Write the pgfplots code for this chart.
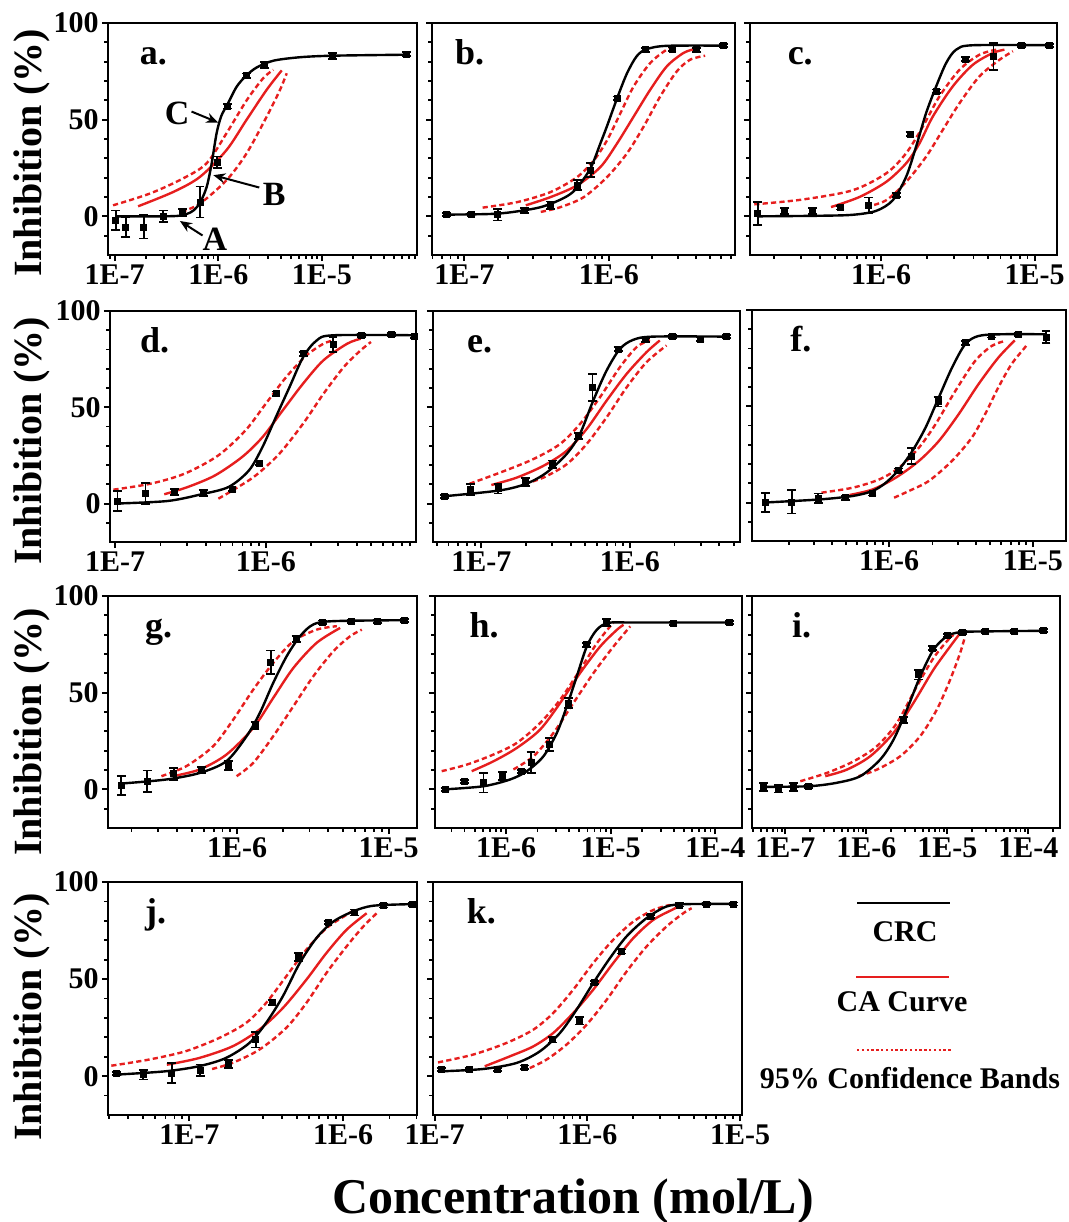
\documentclass[border=0pt]{standalone}
\usepackage{fontspec}
\setmainfont{Liberation Serif}
\usepackage{pgfplots}
\pgfplotsset{compat=1.18}
\usetikzlibrary{arrows.meta}
\definecolor{cared}{RGB}{230,30,30}

\pgfplotsset{
  every axis/.append style={
    scale only axis, anchor=north west, xmode=log,
    ymin=-20, ymax=100,
    ytick={0,50,100}, yticklabels={0,50,100},
    minor ytick={-10,10,20,30,40,60,70,80,90},
    xtick={1e-8,1e-7,1e-6,1e-5,1e-4,1e-3},
    minor xtick={2e-8,3e-8,4e-8,5e-8,6e-8,7e-8,8e-8,9e-8,2e-7,3e-7,4e-7,5e-7,6e-7,7e-7,8e-7,9e-7,
      2e-6,3e-6,4e-6,5e-6,6e-6,7e-6,8e-6,9e-6,2e-5,3e-5,4e-5,5e-5,6e-5,7e-5,8e-5,9e-5,
      2e-4,3e-4,4e-4,5e-4,6e-4,7e-4,8e-4,9e-4},
    xticklabel={\pgfmathparse{int(round(\tick/2.302585))}1E\pgfmathresult},
    tick align=outside, tick pos=left,
    axis line style={line width=1.3pt},
    major tick style={line width=1pt, black},
    minor tick style={line width=0.9pt, black},
    major tick length=3pt, minor tick length=1.8pt,
    tick label style={font=\fontsize{15}{15}\selectfont\bfseries, inner sep=1.5pt},
  },
  crc/.style={black, line width=1.2pt, smooth},
  ca/.style={cared, line width=1.2pt, smooth},
  cb/.style={cared, line width=1.2pt, smooth, dash pattern=on 2.6pt off 1.6pt},
  dat/.style={only marks, mark=square*, mark size=1.5pt, black,
    error bars/y dir=both, error bars/y explicit,
    error bars/error bar style={line width=0.9pt, black},
    error bars/error mark options={rotate=90, black, line width=0.9pt, mark size=2.2pt}},
}
\tikzset{
  lab/.style={anchor=base west, font=\fontsize{18}{18}\selectfont\bfseries},
  ann/.style={font=\fontsize{17}{17}\selectfont\bfseries},
  arr/.style={-{Stealth[length=6pt,width=5pt]}, line width=1pt, black},
}

\begin{document}
\begin{tikzpicture}
\useasboundingbox (0,0) rectangle (534.5pt,-611pt);

% ---------- a ----------
\begin{axis}[at={(54pt,-11.5pt)}, width=154.5pt, height=116pt, xmin=8.61e-8, xmax=8.30e-5]
\addplot[cb] table[x expr={10^(\thisrowno{0})}] {
-7.016 5.7
-6.66 11.8
-6.34 19.6
-6.113 27.4
-5.92 43
-5.726 60
-5.565 71.5
-5.468 75.8
};
\addplot[cb] table[x expr={10^(\thisrowno{0})}] {
-6.355 2.3
-6.177 6.6
-5.92 18.7
-5.726 32.6
-5.532 51.6
-5.403 65.5
-5.339 74
};
\addplot[ca] table[x expr={10^(\thisrowno{0})}] {
-6.774 5.2
-6.435 12.6
-6.177 20.4
-5.92 34.3
-5.726 50
-5.532 65.5
-5.387 75.5
};
\addplot[crc] table[x expr={10^(\thisrowno{0})}] {
-6.99 0
-6.6 0
-6.40 0.2
-6.306 1.2
-6.24 3
-6.177 7
-6.113 15
-6.065 27
-6.016 43
-5.97 52
-5.91 58
-5.823 67
-5.732 72.7
-5.629 77
-5.468 80.5
-5.21 82.3
-4.887 83.1
-4.184 83.6
};
\addplot[dat] table[x expr={10^(\thisrowno{0})}, y error index=2] {
-6.99 -2 5
-6.894 -5.5 5
-6.72 -5.5 6
-6.53 0 3
-6.345 2 2
-6.177 7.4 8
-6.01 28 3
-5.91 57 1.2
-5.73 72.7 1.2
-5.55 78.4 1.5
-4.90 82.8 1.5
-4.18 84 1
};
\node[lab] at (rel axis cs:0.08,0.82) {a.};
\node[ann] at (axis cs:4.0e-7,53.3) {C};
\draw[arr] (axis cs:5.52e-7,54.2) -- (axis cs:1e-6,48.5);
\node[ann] at (axis cs:3.46e-6,11.3) {B};
\draw[arr] (axis cs:2.49e-6,14.9) -- (axis cs:8.95e-7,21.3);
\node[ann] at (axis cs:9.29e-7,-12.1) {A};
\draw[arr] (axis cs:7.05e-7,-9.9) -- (axis cs:4.26e-7,-2.4);
\end{axis}

% ---------- b ----------
\begin{axis}[yticklabels={}, at={(216pt,-11.5pt)}, width=151.5pt, height=116pt, xmin=5.96e-8, xmax=7.48e-6]
\addplot[cb] table[x expr={10^(\thisrowno{0})}] {
-6.874 4.5
-6.632 7.4
-6.402 12.6
-6.218 20.4
-6.103 29
-6.011 39.5
-5.92 53.3
-5.828 67.2
-5.713 79.3
-5.598 86.2
-5.529 87.1
};
\addplot[cb] table[x expr={10^(\thisrowno{0})}] {
-6.471 2.3
-6.333 4.8
-6.172 10
-6.011 20.4
-5.874 32.6
-5.759 46.4
-5.644 62
-5.529 75
-5.437 81
-5.333 83.1
};
\addplot[ca] table[x expr={10^(\thisrowno{0})}] {
-6.575 5.7
-6.402 10
-6.218 16.1
-6.057 25.6
-5.943 37.7
-5.828 51.6
-5.713 65.5
-5.598 77.6
-5.483 84.5
-5.402 86.6
};
\addplot[crc] table[x expr={10^(\thisrowno{0})}] {
-7.126 0.9
-6.77 1.4
-6.517 4.0
-6.402 6.5
-6.287 10.5
-6.218 15
-6.126 25
-6.057 38
-6.011 47
-5.943 61
-5.874 74
-5.805 83
-5.736 86.5
-5.598 88.2
-5.207 88.3
};
\addplot[dat] table[x expr={10^(\thisrowno{0})}, y error index=2] {
-7.126 0.9 0.8
-6.954 1.0 0.8
-6.77 0.9 3
-6.582 3.1 1.2
-6.402 5.7 2
-6.218 16.1 2.5
-6.126 23.9 3.5
-5.943 61 1
-5.747 86.2 1
-5.563 86.6 1
-5.39 86.2 1
-5.207 88.3 0.8
};
\node[lab] at (rel axis cs:0.053,0.82) {b.};
\end{axis}

% ---------- c ----------
\begin{axis}[yticklabels={}, at={(375pt,-11.5pt)}, width=153.5pt, height=116pt, xmin=1.40e-7, xmax=1.40e-5]
\addplot[cb] table[x expr={10^(\thisrowno{0})}] {
-6.826 6.2
-6.511 8.7
-6.185 13.5
-5.967 22.2
-5.837 32.6
-5.728 46.4
-5.62 62
-5.489 75.8
-5.359 83.6
-5.25 86.2
};
\addplot[cb] table[x expr={10^(\thisrowno{0})}] {
-6.098 4.8
-5.967 8.3
-5.837 17.8
-5.707 30.8
-5.598 44.7
-5.489 58.5
-5.359 72.4
-5.228 81
-5.141 85.4
};
\addplot[ca] table[x expr={10^(\thisrowno{0})}] {
-6.326 4.8
-6.141 10
-5.967 17.8
-5.837 27.4
-5.75 37.7
-5.663 51.6
-5.533 67.2
-5.402 78.4
-5.272 84.5
-5.196 86.2
};
\addplot[crc] table[x expr={10^(\thisrowno{0})}] {
-6.804 0
-6.4 0.3
-6.185 0.8
-6.033 2.8
-5.924 8.3
-5.837 20.4
-5.772 36
-5.707 53.3
-5.641 67.2
-5.576 79.3
-5.511 86.2
-5.402 88.5
-4.902 88.5
};
\addplot[dat] table[x expr={10^(\thisrowno{0})}, y error index=2] {
-6.804 1.4 6
-6.63 2.8 1.5
-6.446 2.8 1.5
-6.267 4.5 1
-6.08 5.7 4
-5.902 10.9 1
-5.811 42.6 1.2
-5.637 64.6 1
-5.45 81.4 1
-5.267 82.8 7
-5.087 88.5 0.8
-4.902 88.5 0.8
};
\node[lab] at (rel axis cs:0.1,0.82) {c.};
\end{axis}

% ---------- d ----------
\begin{axis}[at={(55pt,-155.5pt)}, width=153pt, height=115.5pt, xmin=9.25e-8, xmax=9.9e-6]
\addplot[cb] table[x expr={10^(\thisrowno{0})}] {
-7.011 7.2
-6.764 10.3
-6.539 15.5
-6.315 25
-6.135 38
-6.0 51.9
-5.865 65.7
-5.73 77
-5.618 83
-5.551 84.8
};
\addplot[cb] table[x expr={10^(\thisrowno{0})}] {
-6.315 2.5
-6.202 7.7
-6.067 14.6
-5.91 25.9
-5.753 41.5
-5.618 57
-5.483 70.9
-5.371 79.6
-5.303 83.9
};
\addplot[ca] table[x expr={10^(\thisrowno{0})}] {
-6.674 4.8
-6.517 8.6
-6.337 14.6
-6.157 24.2
-6.022 34.5
-5.888 48.4
-5.753 62.3
-5.618 74.4
-5.461 83
-5.371 85.6
};
\addplot[crc] table[x expr={10^(\thisrowno{0})}] {
-6.984 0
-6.652 1.3
-6.427 4.8
-6.247 8.6
-6.112 17.2
-6.022 29.4
-5.933 45
-5.843 60.5
-5.753 76
-5.663 84.7
-5.551 87.4
-5.01 87.4
};
\addplot[dat] table[x expr={10^(\thisrowno{0})}, y error index=2] {
-6.984 1.3 5
-6.798 5.1 5.5
-6.607 6 1.5
-6.416 5.6 1.5
-6.225 7.4 1
-6.045 21 1
-5.933 57 1.2
-5.753 77.8 1
-5.555 82.5 4
-5.366 87.4 0.8
-5.169 87.7 0.8
-5.012 86.8 0.8
};
\node[lab] at (rel axis cs:0.075,0.82) {d.};
\end{axis}

% ---------- e ----------
\begin{axis}[yticklabels={}, at={(216.5pt,-155.5pt)}, width=153.5pt, height=115.5pt, xmin=4.72e-8, xmax=5.52e-6]
\addplot[cb] table[x expr={10^(\thisrowno{0})}] {
-7.079 10.3
-6.876 16
-6.652 23
-6.472 30.8
-6.337 41.2
-6.202 55.1
-6.067 70.8
-5.955 81.2
-5.865 85
};
\addplot[cb] table[x expr={10^(\thisrowno{0})}] {
-6.708 10.3
-6.584 13.4
-6.427 20.3
-6.292 30.8
-6.157 44.7
-6.022 60.3
-5.888 73.4
-5.753 82.1
};
\addplot[ca] table[x expr={10^(\thisrowno{0})}] {
-6.933 9.6
-6.764 13.4
-6.584 19.5
-6.427 27.3
-6.292 38.6
-6.157 53.4
-6.022 67.3
-5.888 78.6
-5.798 84.7
};
\addplot[crc] table[x expr={10^(\thisrowno{0})}] {
-7.247 3.8
-6.876 6.8
-6.697 10.3
-6.562 16
-6.427 25.6
-6.337 36
-6.247 53.4
-6.157 69
-6.067 80.3
-5.978 85
-5.843 86.7
-5.348 86.7
};
\addplot[dat] table[x expr={10^(\thisrowno{0})}, y error index=2] {
-7.247 3.8 0.8
-7.074 7.3 3
-6.888 7.7 2.5
-6.701 11.3 2
-6.521 20.3 2
-6.344 35.1 1.5
-6.252 60.3 7
-6.079 80.3 1
-5.894 85 1
-5.712 86.7 0.8
-5.528 85.5 1
-5.348 86.7 0.8
};
\node[lab] at (rel axis cs:0.088,0.82) {e.};
\end{axis}

% ---------- f ----------
\begin{axis}[yticklabels={}, at={(376pt,-155pt)}, width=157pt, height=115.5pt, xmin=1.11e-7, xmax=1.70e-5]
\addplot[cb] table[x expr={10^(\thisrowno{0})}] {
-6.471 5.1
-6.253 7.7
-6.069 12
-5.931 18.1
-5.793 28.5
-5.678 40.6
-5.54 57.9
-5.402 73.5
-5.287 81.3
-5.195 83.9
};
\addplot[cb] table[x expr={10^(\thisrowno{0})}] {
-5.966 2.5
-5.862 6
-5.724 11.2
-5.563 21.6
-5.425 33.7
-5.333 45.8
-5.241 59.7
-5.149 71.8
-5.057 80.4
-5.04 82
};
\addplot[ca] table[x expr={10^(\thisrowno{0})}] {
-6.276 3.9
-6.115 6.8
-5.954 12.9
-5.793 21.6
-5.655 31.9
-5.517 45.8
-5.379 61.4
-5.241 75.2
-5.126 84.2
};
\addplot[crc] table[x expr={10^(\thisrowno{0})}] {
-6.862 0
-6.483 1.6
-6.253 3.4
-6.115 6
-6.023 10.3
-5.931 17.2
-5.839 26.7
-5.747 38.9
-5.655 54.5
-5.563 70
-5.471 82.2
-5.379 86.5
-5.218 87.4
-4.908 87.4
};
\addplot[dat] table[x expr={10^(\thisrowno{0})}, y error index=2] {
-6.862 0 5
-6.678 0.3 6
-6.494 2.2 2.5
-6.303 2.5 1
-6.12 4.6 1
-5.936 16.7 1
-5.844 24.2 4
-5.66 52.4 2.5
-5.471 83 1
-5.287 86.5 0.8
-5.103 87.4 0.8
-4.908 86 3
};
\node[lab] at (rel axis cs:0.1,0.82) {f.};
\end{axis}

% ---------- g ----------
\begin{axis}[at={(54pt,-298pt)}, width=154.5pt, height=116pt, xmin=1.40e-7, xmax=1.54e-5]
\addplot[cb] table[x expr={10^(\thisrowno{0})}] {
-6.501 6.8
-6.336 12
-6.159 22.3
-6.026 36.1
-5.894 51.6
-5.762 65.4
-5.629 76.6
-5.475 82.6
-5.342 84.4
};
\addplot[cb] table[x expr={10^(\thisrowno{0})}] {
-6.004 6.8
-5.894 13.7
-5.762 27.5
-5.629 43
-5.497 58.5
-5.364 71.5
-5.254 79.2
-5.177 82.6
};
\addplot[ca] table[x expr={10^(\thisrowno{0})}] {
-6.424 6.8
-6.247 10.3
-6.071 18
-5.894 31.8
-5.762 47.3
-5.629 62.8
-5.475 75.8
-5.32 83.5
};
\addplot[crc] table[x expr={10^(\thisrowno{0})}] {
-6.766 3
-6.468 5.1
-6.247 8.5
-6.071 14.6
-5.938 27.5
-5.85 39.6
-5.762 55.1
-5.673 68.9
-5.585 79.2
-5.497 85.3
-5.364 87
-4.894 87.5
};
\addplot[dat] table[x expr={10^(\thisrowno{0})}, y error index=2] {
-6.766 2 5
-6.594 4.2 5.5
-6.419 8 3
-6.236 9.9 1.5
-6.06 12.3 2.5
-5.883 33 2
-5.779 65.8 6
-5.611 77.8 1.5
-5.435 86.5 0.8
-5.249 87 0.8
-5.071 87 0.8
-4.894 87.5 0.8
};
\node[lab] at (rel axis cs:0.097,0.82) {g.};
\end{axis}

% ---------- h ----------
\begin{axis}[yticklabels={}, at={(217.5pt,-298pt)}, width=153.5pt, height=116pt, xmin=2.09e-7, xmax=1.80e-4]
\addplot[cb] table[x expr={10^(\thisrowno{0})}] {
-6.616 9.4
-6.376 12.8
-6.121 18
-5.898 24
-5.675 34.3
-5.483 46.4
-5.292 61.9
-5.132 75.6
-5.005 84.3
-4.973 86
};
\addplot[cb] table[x expr={10^(\thisrowno{0})}] {
-5.93 10.3
-5.738 17.1
-5.547 29.2
-5.356 44.7
-5.164 60.2
-4.973 73.9
-4.813 84.3
};
\addplot[ca] table[x expr={10^(\thisrowno{0})}] {
-6.329 9.4
-6.121 14.5
-5.898 21.4
-5.675 30.9
-5.483 44.7
-5.292 60.2
-5.1 73.9
-4.941 82.5
-4.877 85.1
};
\addplot[crc] table[x expr={10^(\thisrowno{0})}] {
-6.584 0
-6.217 1.6
-5.962 5.1
-5.802 9.4
-5.643 17.1
-5.515 29.2
-5.419 43
-5.324 58.5
-5.228 74
-5.132 82.6
-5.021 86.1
-4.781 86.3
-3.863 86.3
};
\addplot[dat] table[x expr={10^(\thisrowno{0})}, y error index=2] {
-6.584 0 0.8
-6.399 3.9 0.8
-6.217 3.4 5
-6.035 6.8 2
-5.85 9.4 0.8
-5.761 14 5.5
-5.585 23.2 3.5
-5.403 44.7 2.5
-5.228 74.8 1
-5.037 86.3 2
-4.405 86 0.8
-3.863 86.3 0.8
};
\node[lab] at (rel axis cs:0.09,0.82) {h.};
\end{axis}

% ---------- i ----------
\begin{axis}[yticklabels={}, at={(376pt,-298pt)}, width=154pt, height=116pt, xmin=3.88e-8, xmax=2.46e-4]
\addplot[cb] table[x expr={10^(\thisrowno{0})}] {
-6.815 4.2
-6.486 8.5
-6.157 14.5
-5.87 22.3
-5.623 34.3
-5.376 53.3
-5.171 67.9
-5.007 76.5
-4.924 80
};
\addplot[cb] table[x expr={10^(\thisrowno{0})}] {
-6.096 6.8
-5.87 10.2
-5.582 17.1
-5.335 27.5
-5.13 41.2
-4.965 56.7
-4.842 70.5
-4.781 79.1
};
\addplot[ca] table[x expr={10^(\thisrowno{0})}] {
-6.507 6.8
-6.24 10.2
-5.952 17.1
-5.664 29.2
-5.418 44.7
-5.171 61.9
-4.965 73.9
-4.842 80.8
};
\addplot[crc] table[x expr={10^(\thisrowno{0})}] {
-7.267 1.3
-6.712 1.6
-6.363 3.4
-6.075 6.8
-5.829 15.4
-5.664 25.7
-5.5 41.2
-5.335 58.4
-5.171 72.2
-5.007 79.1
-4.842 81.3
-4.513 81.7
-3.815 82
};
\addplot[dat] table[x expr={10^(\thisrowno{0})}, y error index=2] {
-7.267 1.3 2
-7.082 0.4 2
-6.897 1.3 2
-6.712 1.6 0.8
-5.541 36 1.5
-5.356 59.3 2.5
-5.179 73 1
-4.998 79.4 0.8
-4.809 81.3 0.8
-4.534 81.7 0.8
-4.176 81.7 0.8
-3.815 82 0.8
};
\node[lab] at (rel axis cs:0.107,0.82) {i.};
\end{axis}

% ---------- j ----------
\begin{axis}[at={(54pt,-441pt)}, width=154.5pt, height=116.5pt, xmin=2.96e-8, xmax=3.02e-6]
\addplot[cb] table[x expr={10^(\thisrowno{0})}] {
-7.507 5.4
-7.266 8.5
-7.026 12.8
-6.808 19.6
-6.633 27.3
-6.502 37.6
-6.371 51.3
-6.24 65.1
-6.109 76.2
-5.978 83.1
-5.924 85.7
};
\addplot[cb] table[x expr={10^(\thisrowno{0})}] {
-6.852 3.7
-6.721 6.8
-6.546 13.6
-6.371 24.8
-6.24 37.6
-6.109 53.1
-5.978 66.8
-5.869 77.1
-5.782 83.9
};
\addplot[ca] table[x expr={10^(\thisrowno{0})}] {
-7.146 5.9
-6.939 9.3
-6.721 15.3
-6.546 23.9
-6.393 35
-6.24 49.6
-6.109 63.4
-5.978 75.4
-5.847 83.9
};
\addplot[crc] table[x expr={10^(\thisrowno{0})}] {
-7.474 0.8
-7.157 2.5
-6.939 5.1
-6.764 9.3
-6.611 17
-6.502 27.3
-6.393 41
-6.284 58
-6.175 71
-6.066 79.5
-5.934 84.9
-5.803 87.8
-5.552 88.6
};
\addplot[dat] table[x expr={10^(\thisrowno{0})}, y error index=2] {
-7.474 1.3 0.8
-7.299 0.8 2.5
-7.114 1.6 5
-6.928 3 3
-6.747 6.3 2
-6.568 18.8 4
-6.463 38 1.2
-6.288 61.3 2
-6.098 79.1 0.8
-5.924 84.3 1.5
-5.738 87.7 0.8
-5.552 88.6 0.8
};
\node[lab] at (rel axis cs:0.097,0.82) {j.};
\end{axis}

% ---------- k ----------
\begin{axis}[yticklabels={}, at={(216.5pt,-441pt)}, width=154.5pt, height=116.5pt, xmin=9.75e-8, xmax=1.03e-5]
\addplot[cb] table[x expr={10^(\thisrowno{0})}] {
-6.978 7.1
-6.749 11.1
-6.53 17.1
-6.355 23.9
-6.224 32.5
-6.093 44.5
-5.962 58.2
-5.831 70.2
-5.699 79.6
-5.568 85.6
-5.459 88.2
};
\addplot[cb] table[x expr={10^(\thisrowno{0})}] {
-6.377 4.2
-6.268 8.5
-6.137 16.2
-6.005 26.5
-5.874 39.3
-5.743 53.9
-5.612 66.8
-5.481 77.1
-5.372 83.9
-5.317 86.5
};
\addplot[ca] table[x expr={10^(\thisrowno{0})}] {
-6.672 5.1
-6.508 10.2
-6.355 15.3
-6.224 22.2
-6.093 32.5
-5.962 44.5
-5.831 58.2
-5.699 71.1
-5.568 80.5
-5.437 86
-5.383 88.2
};
\addplot[crc] table[x expr={10^(\thisrowno{0})}] {
-6.956 2.5
-6.683 3.7
-6.464 6.8
-6.311 12.8
-6.18 22.2
-6.071 34.2
-5.962 47.9
-5.852 60.8
-5.743 72
-5.612 81.4
-5.481 87.4
-5.35 88.6
-5.044 88.7
};
\addplot[dat] table[x expr={10^(\thisrowno{0})}, y error index=2] {
-6.956 3.3 0.8
-6.775 3.3 0.8
-6.591 3.3 0.8
-6.41 4.7 0.8
-6.228 18.8 1.5
-6.049 28.6 2
-5.951 48.3 0.8
-5.776 64.2 1
-5.586 82.2 0.8
-5.398 88.2 0.8
-5.219 88.7 0.8
-5.044 88.7 0.8
};
\node[lab] at (rel axis cs:0.087,0.82) {k.};
\end{axis}

% ---------- axis titles ----------
\node[rotate=90, font=\fontsize{20}{20}\selectfont\bfseries] at (16pt,-76.5pt) {Inhibition (\%)};
\node[rotate=90, font=\fontsize{20}{20}\selectfont\bfseries] at (16pt,-220.5pt) {Inhibition (\%)};
\node[rotate=90, font=\fontsize{20}{20}\selectfont\bfseries] at (16pt,-366pt) {Inhibition (\%)};
\node[rotate=90, font=\fontsize{20}{20}\selectfont\bfseries] at (16pt,-508.5pt) {Inhibition (\%)};
\node[anchor=base, font=\fontsize{25}{25}\selectfont\bfseries] at (286.5pt,-606.5pt) {Concentration (mol/L)};

% ---------- legend ----------
\draw[black, line width=1.3pt] (428.5pt,-451.5pt) -- (475pt,-451.5pt);
\node[font=\fontsize{15}{15}\selectfont\bfseries] at (452.5pt,-466pt) {CRC};
\draw[cared, line width=1.3pt] (428pt,-488.5pt) -- (474.5pt,-488.5pt);
\node[font=\fontsize{15}{15}\selectfont\bfseries] at (451pt,-501pt) {CA Curve};
\draw[cared, line width=1.1pt, dash pattern=on 1.2pt off 1.2pt] (428.5pt,-525pt) -- (475.5pt,-525pt);
\node[font=\fontsize{15}{15}\selectfont\bfseries] at (455pt,-539pt) {95\% Confidence Bands};
\end{tikzpicture}
\end{document}
